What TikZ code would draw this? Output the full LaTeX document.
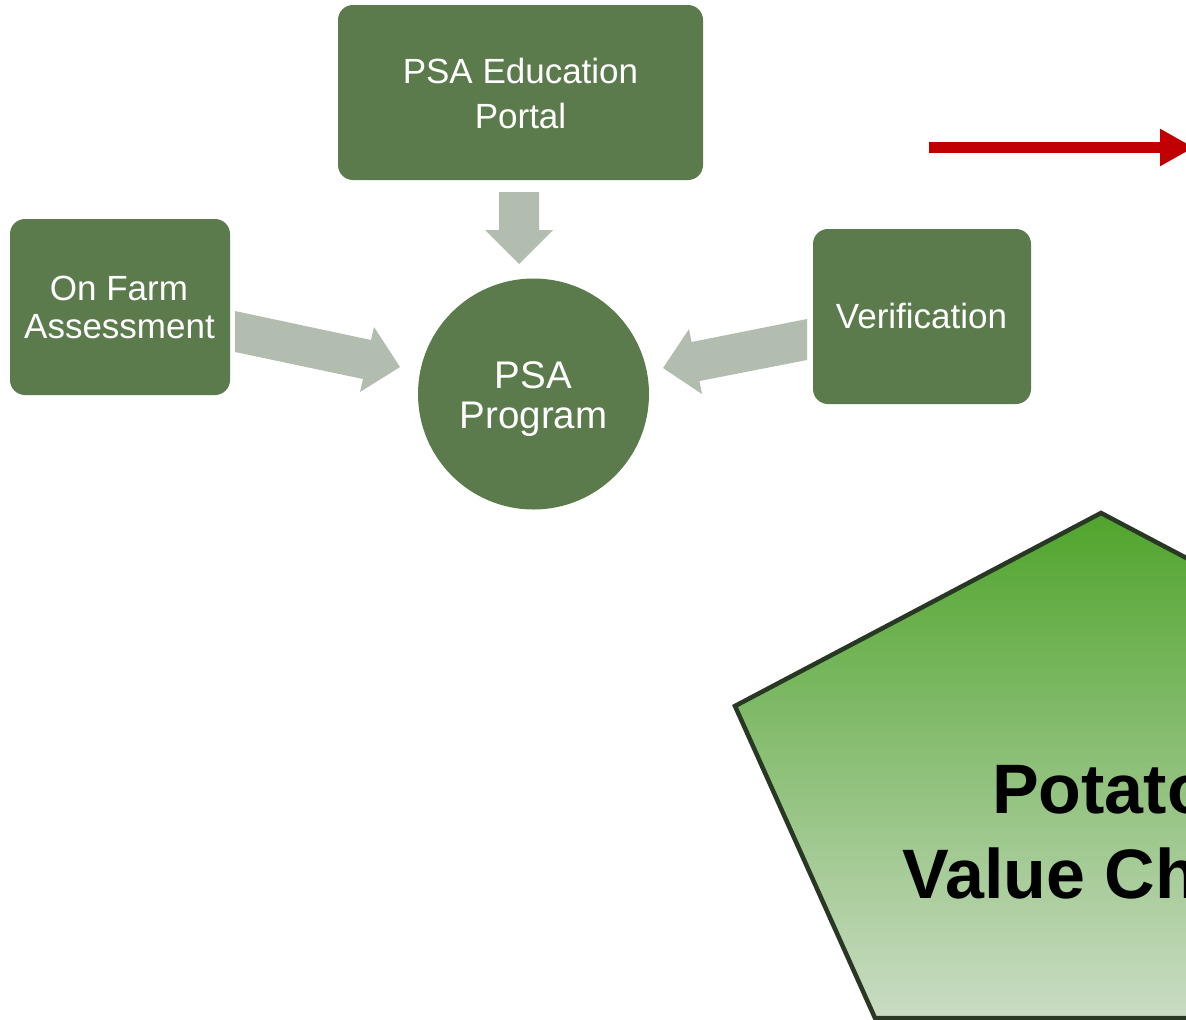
\documentclass[tikz,border=0pt]{standalone}
\usepackage{fontspec}
\setmainfont{Liberation Sans}
\usetikzlibrary{arrows.meta}
\definecolor{boxgreen}{RGB}{91,123,76}
\definecolor{arrowgray}{RGB}{179,189,175}
\definecolor{redarrow}{RGB}{192,0,0}
\definecolor{penttop}{RGB}{80,164,44}
\definecolor{pentbot}{RGB}{202,220,196}
\definecolor{pentline}{RGB}{40,56,36}
\begin{document}
\begin{tikzpicture}[x=1pt,y=-1pt,
  box/.style={draw=none, fill=boxgreen, rounded corners=15pt, inner sep=0pt},
  lbl/.style={text=white, font=\fontsize{35}{42}\selectfont, anchor=base, inner sep=0pt},
  blockarrow/.style={fill=arrowgray, draw=none}]
\useasboundingbox (0,0) rectangle (1186,1020);
\fill[white] (0,0) rectangle (1186,1020);
\begin{scope}
\clip (0,0) rectangle (1186,1020);
% boxes
\node[box, minimum width=365pt, minimum height=175pt] (portal) at (520.5,92.5) {};
\node[box, minimum width=220pt, minimum height=176pt] (farm) at (120,307) {};
\node[box, minimum width=218pt, minimum height=175pt] (verif) at (922,316.5) {};
\node[circle, fill=boxgreen, draw=none, minimum size=231pt, inner sep=0pt] (prog) at (533.5,394) {};
% labels
\node[lbl] (portal1) at (520.5,83) {PSA Education};
\node[lbl] (portal2) at (520.5,128) {Portal};
\node[lbl] (farm1) at (119,300) {On Farm};
\node[lbl] (farm2) at (119.5,338) {Assessment};
\node[lbl] (verif1) at (921.5,328) {Verification};
\node[lbl, font=\fontsize{38.5}{46}\selectfont] (prog1) at (533.5,388) {PSA};
\node[lbl, font=\fontsize{38.5}{46}\selectfont] (prog2) at (533.5,428) {Program};
% block arrows
\path[blockarrow] (499,192) -- (539,192) -- (539,230) -- (553,230) -- (519,264) -- (485,230) -- (499,230) -- cycle;
\path[blockarrow] (235,311) -- (371,340) -- (374,327) -- (400,367) -- (360,392) -- (363,379) -- (235,352) -- cycle;
\path[blockarrow] (807,319) -- (691.5,342) -- (689,329) -- (663,368) -- (702,394) -- (699.5,381) -- (807,360) -- cycle;
% red arrow
\coordinate (rs) at (929,147.5);
\coordinate (re) at (1194,147.5);
\draw[redarrow, line width=11pt, -{Triangle[length=34pt,width=35pt]}] (rs) -- (re);
% pentagon
\path[draw=pentline, line width=4.5pt, line join=miter, top color=penttop, bottom color=pentbot]
  (1101,513) -- (1467,706) -- (1327,1018) -- (875,1018) -- (735,706) -- cycle;
\node[font=\fontsize{70}{84}\selectfont\bfseries, anchor=base, inner sep=0pt] (vc1) at (1101,813) {Potato};
\node[font=\fontsize{70}{84}\selectfont\bfseries, anchor=base, inner sep=0pt] (vc2) at (1101,898) {Value Chain};
\end{scope}
\end{tikzpicture}
\end{document}
